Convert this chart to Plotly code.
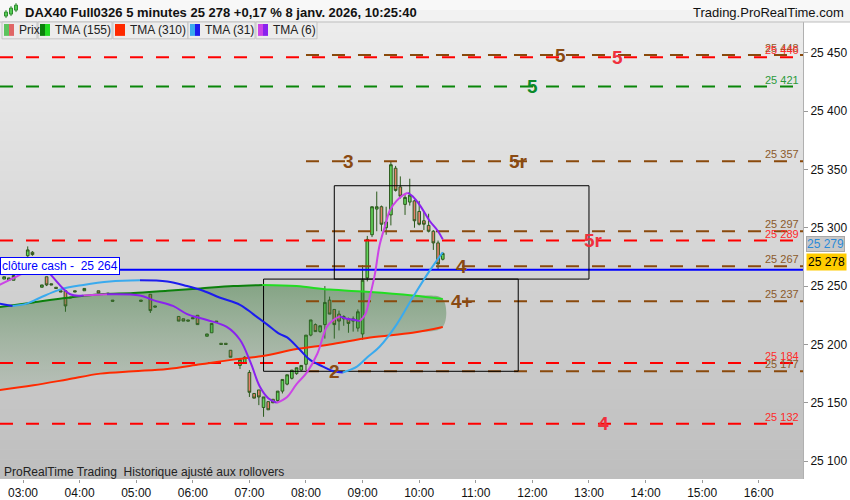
import plotly.graph_objects as go

DAY = "2026-01-08"
X_START = "02:35:36"
X_END = "16:46:54"
Y_MIN, Y_MAX = 25084.7, 25476.3

# 5 minute candles (overnight bars are sparse)
BAR_TIMES = ["02:40", "02:45", "02:50", "03:05", "03:10", "03:15", "03:20", "03:25", "03:30", "03:35",
             "03:40", "03:45", "03:50", "03:55", "04:05", "04:20", "04:30", "04:35", "05:05", "05:15",
             "05:20", "05:45", "05:50", "05:55", "06:00", "06:05", "06:15", "06:20", "06:25", "06:30",
             "06:35", "06:40", "06:50", "06:55", "07:00", "07:05", "07:10", "07:15", "07:20", "07:25",
             "07:30", "07:35", "07:40", "07:45", "07:50", "07:55", "08:00", "08:05", "08:10", "08:15",
             "08:20", "08:25", "08:30", "08:35", "08:40", "08:45", "08:50", "08:55", "09:00", "09:05",
             "09:10", "09:15", "09:20", "09:25", "09:30", "09:35", "09:40", "09:45", "09:50", "09:55",
             "10:00", "10:05", "10:10", "10:15", "10:20", "10:25"]
BAR_OPEN = [25256, 25255, 25255, 25276, 25279, 25261, 25249, 25258, 25252, 25249,
            25246, 25246, 25240, 25246, 25246, 25246, 25244, 25238, 25238, 25243,
            25233, 25224, 25222, 25221, 25223, 25225, 25207, 25210, 25220, 25201,
            25201, 25195, 25182, 25184, 25176, 25158, 25161, 25146, 25151, 25153,
            25152, 25160, 25166, 25171, 25175, 25178, 25183, 25208, 25217, 25211,
            25217, 25238, 25230, 25226, 25222, 25222, 25220, 25214, 25209, 25257,
            25294, 25316, 25318, 25300, 25311, 25351, 25335, 25320, 25322, 25323,
            25314, 25306, 25302, 25297, 25287, 25273]
BAR_HIGH = [25258, 25257, 25260, 25284, 25280, 25261, 25251, 25258, 25252, 25249,
            25246, 25246, 25241, 25246, 25248, 25246, 25244, 25238, 25238, 25243,
            25233, 25224, 25222, 25221, 25223, 25225, 25209, 25218, 25220, 25201,
            25201, 25195, 25187, 25190, 25178, 25158, 25161, 25155, 25151, 25153,
            25160, 25170, 25174, 25178, 25180, 25182, 25208, 25221, 25218, 25216,
            25250, 25241, 25230, 25229, 25225, 25223, 25224, 25230, 25268, 25293,
            25318, 25331, 25319, 25318, 25357, 25353, 25344, 25328, 25342, 25324,
            25323, 25314, 25312, 25298, 25289, 25279]
BAR_LOW = [25256, 25255, 25255, 25275, 25276, 25260, 25249, 25250, 25251, 25248,
           25245, 25228, 25240, 25245, 25246, 25244, 25243, 25237, 25237, 25227,
           25232, 25220, 25220, 25220, 25222, 25217, 25207, 25210, 25219, 25200,
           25200, 25189, 25179, 25184, 25155, 25154, 25148, 25138, 25144, 25150,
           25150, 25158, 25165, 25170, 25174, 25177, 25178, 25207, 25211, 25210,
           25205, 25226, 25205, 25212, 25216, 25210, 25211, 25211, 25204, 25254,
           25292, 25297, 25297, 25294, 25302, 25331, 25325, 25311, 25319, 25300,
           25302, 25298, 25296, 25281, 25264, 25272]
BAR_CLOSE = [25258, 25257, 25259, 25281, 25277, 25260, 25251, 25251, 25251, 25248,
             25245, 25233, 25240, 25245, 25248, 25244, 25243, 25237, 25237, 25229,
             25232, 25220, 25220, 25220, 25222, 25217, 25209, 25218, 25219, 25200,
             25200, 25189, 25187, 25189, 25159, 25154, 25155, 25155, 25144, 25150,
             25160, 25170, 25174, 25178, 25180, 25182, 25208, 25221, 25211, 25216,
             25236, 25226, 25217, 25220, 25224, 25218, 25222, 25228, 25255, 25290,
             25318, 25318, 25303, 25305, 25354, 25332, 25327, 25326, 25328, 25306,
             25303, 25303, 25297, 25287, 25269, 25278]

# triangular moving averages
TMA6_TIMES = ["02:35", "03:05", "03:18", "03:29", "03:50", "04:04", "04:29", "05:04", "05:18", "05:39",
              "05:54", "06:15", "06:36", "06:50", "07:01", "07:11", "07:20", "07:29", "07:40", "07:50",
              "08:01", "08:12", "08:22", "08:29", "08:36", "08:43", "08:52", "08:57", "09:03", "09:08",
              "09:13", "09:18", "09:24", "09:29", "09:36", "09:43", "09:48", "09:53", "10:01", "10:11",
              "10:20", "10:25"]
TMA6_VALUES = [25251, 25263, 25269, 25260, 25243, 25242, 25243, 25242, 25238, 25233,
               25226, 25221, 25215, 25204, 25185, 25164, 25154, 25150, 25155, 25166,
               25176, 25192, 25215, 25221, 25224, 25222, 25221, 25220, 25226, 25242,
               25260, 25285, 25302, 25315, 25323, 25328, 25330, 25327, 25319, 25306,
               25297, 25290]
TMA31_TIMES = ["02:35", "02:49", "03:04", "03:18", "03:39", "04:04", "04:32", "05:04", "05:33", "05:54",
               "06:11", "06:29", "06:50", "07:04", "07:19", "07:32", "07:40", "07:54", "08:04", "08:18",
               "08:29", "08:39", "08:54", "09:05", "09:18", "09:36", "09:53", "10:11", "10:25"]
TMA31_VALUES = [25235, 25233, 25235, 25240, 25247, 25251, 25254, 25255, 25254, 25250,
                25246, 25240, 25234, 25226, 25217, 25209, 25206, 25195, 25187, 25181,
                25177, 25176, 25181, 25189, 25198, 25217, 25240, 25263, 25279]
SLOW_TIMES = ["02:35", "03:11", "03:47", "04:22", "04:57", "05:33", "06:08", "06:43", "07:14", "07:50",
              "08:25", "09:08", "09:53", "10:25"]
TMA155_VALUES = [25232, 25236, 25240, 25243, 25244, 25246, 25248, 25250, 25251, 25250,
                 25247, 25245, 25242, 25239]
TMA310_VALUES = [25161, 25165, 25170, 25175, 25177, 25179, 25183, 25187, 25190, 25196,
                 25200, 25206, 25210, 25215]

LAST_PRICE = 25278
CASH_CLOSE = 25264

# horizontal levels
LEVELS = [25448, 25446, 25421, 25357, 25297, 25289, 25267, 25237, 25184, 25177, 25132]
LEVEL_KIND = ["brown", "red", "green", "brown", "brown", "red", "brown", "brown", "red", "brown", "red"]
LEVEL_FROM = ["08:00", None, None, "08:00", "08:00", None, "08:00", "08:00", None, "08:00", None]

TAG_TEXT = ["5", "5", "5", "3", "5r", "5r", "4", "4+", "2", "4"]
TAG_TIME = ["12:30", "13:30", "12:00", "08:45", "11:45", "13:05", "10:45", "10:45", "08:30", "13:15"]
TAG_LEVEL = [25448, 25446, 25421, 25357, 25357, 25289, 25267, 25237, 25177, 25132]
TAG_KIND = ["brown", "red", "green", "brown", "brown", "red", "brown", "brown", "brown", "red"]

ZONE_START = ["08:30", "07:15"]
ZONE_END = ["13:00", "11:45"]
ZONE_LOW = [25256, 25177]
ZONE_HIGH = [25336, 25256]

LEGEND_NAMES = ["Prix", "TMA (155)", "TMA (310)", "TMA (31)", "TMA (6)"]

KIND_COLOR = {"brown": "#8a4a0c", "red": "#ff0000", "green": "#0a860a"}
TAG_COLOR = {"brown": "#8a4a12", "red": "#f0303c", "green": "#0a8a2a"}
LABEL_COLOR = {"brown": "#8b5a2b", "red": "#ff2a2a", "green": "#2a9a3a"}

W, H = 850, 500
ML, MR, MT, MB = 0, 47, 22, 17
PW, PH = W - ML - MR, H - MT - MB
FONT = "Liberation Sans, Arial, sans-serif"


def ts(hhmm):
    if len(hhmm) == 5:
        hhmm += ":00"
    return f"{DAY} {hhmm}"


def fx(x):
    return (x - ML) / PW


def fy(y):
    return (H - MB - y) / PH


def fmt(v):
    return f"{v:,}".replace(",", " ")


fig = go.Figure()

# TMA155 / TMA310 band with fading fill
slow_x = [ts(t) for t in SLOW_TIMES]
fig.add_trace(go.Scatter(
    x=slow_x + slow_x[::-1], y=TMA155_VALUES + TMA310_VALUES[::-1],
    fill="toself", mode="none", line_shape="spline",
    fillgradient=dict(type="vertical",
                      colorscale=[[0, "rgba(70,130,70,0.12)"], [1, "rgba(40,110,40,0.45)"]]),
    hoverinfo="skip", showlegend=False))

# levels
for v, kind, start in zip(LEVELS, LEVEL_KIND, LEVEL_FROM):
    x0 = ts(start) if start else ts(X_START)
    fig.add_trace(go.Scatter(
        x=[x0, ts(X_END)], y=[v, v], mode="lines",
        line=dict(color=KIND_COLOR[kind], width=2, dash="13px,13px"),
        hoverinfo="skip", showlegend=False))

fig.add_trace(go.Scatter(
    x=[ts(X_START), ts(X_END)], y=[CASH_CLOSE, CASH_CLOSE], mode="lines",
    line=dict(color="#0000ff", width=2), hoverinfo="skip", showlegend=False))

# zones
for t0, t1, lo, hi in zip(ZONE_START, ZONE_END, ZONE_LOW, ZONE_HIGH):
    fig.add_trace(go.Scatter(
        x=[ts(t0), ts(t1), ts(t1), ts(t0), ts(t0)], y=[lo, lo, hi, hi, lo],
        mode="lines", line=dict(color="#000000", width=1),
        hoverinfo="skip", showlegend=False))

fig.add_trace(go.Candlestick(
    x=[ts(t) for t in BAR_TIMES], open=BAR_OPEN, high=BAR_HIGH, low=BAR_LOW, close=BAR_CLOSE,
    increasing=dict(line=dict(color="#2b5a1c", width=1), fillcolor="#62d45a"),
    decreasing=dict(line=dict(color="#2b5a1c", width=1), fillcolor="#e4806c"),
    whiskerwidth=0, hoverinfo="skip", showlegend=False))


def add_tma(times, values, up_color, down_color):
    xs = [ts(t) for t in times]
    seg_x, seg_y = [xs[0]], [values[0]]
    cur = None
    for i in range(1, len(values)):
        col = up_color if values[i] > values[i - 1] else down_color
        if cur is not None and col != cur:
            fig.add_trace(go.Scatter(x=seg_x, y=seg_y, mode="lines", line_shape="spline",
                                     line=dict(color=cur, width=2), hoverinfo="skip", showlegend=False))
            seg_x, seg_y = [xs[i - 1]], [values[i - 1]]
        cur = col
        seg_x.append(xs[i])
        seg_y.append(values[i])
    fig.add_trace(go.Scatter(x=seg_x, y=seg_y, mode="lines", line_shape="spline",
                             line=dict(color=cur, width=2), hoverinfo="skip", showlegend=False))


add_tma(SLOW_TIMES, TMA310_VALUES, "#ff2a00", "#ff0000")
add_tma(SLOW_TIMES, TMA155_VALUES, "#0c800c", "#22dd22")
add_tma(TMA31_TIMES, TMA31_VALUES, "#3aaaee", "#1c1cee")
add_tma(TMA6_TIMES, TMA6_VALUES, "#cc44e6", "#8a22ee")

shapes = []
# plot background gradient
n = 46
for i in range(n):
    t = i / (n - 1)
    g = round(236 + (190 - 236) * t)
    y0 = MT + i * PH / n
    y1 = y0 + PH / n + 0.6
    shapes.append(dict(type="rect", xref="paper", yref="paper", x0=0, x1=1,
                       y0=fy(min(y1, H - MB)), y1=fy(y0), fillcolor=f"rgb({g},{g},{g})",
                       line=dict(width=0), layer="below"))

# header bar
shapes.append(dict(type="rect", xref="paper", yref="paper", x0=fx(0), x1=fx(W), y0=fy(MT), y1=fy(0),
                   fillcolor="#f2f2f2", line=dict(width=0), layer="above"))
shapes.append(dict(type="rect", xref="paper", yref="paper", x0=fx(0), x1=fx(W), y0=fy(10), y1=fy(0),
                   fillcolor="#f8f8f8", line=dict(width=0), layer="above"))
shapes.append(dict(type="line", xref="paper", yref="paper", x0=fx(0), x1=fx(W), y0=fy(MT), y1=fy(MT),
                   line=dict(color="#bdbdbd", width=1), layer="above"))
# little candle icon
for x, y0, y1 in [(6, 10, 18), (11, 6, 16), (16, 3, 12)]:
    shapes.append(dict(type="line", xref="paper", yref="paper", x0=fx(x), x1=fx(x), y0=fy(y1), y1=fy(y0),
                       line=dict(color="#2f8a2f", width=1), layer="above"))
    shapes.append(dict(type="rect", xref="paper", yref="paper", x0=fx(x - 1.5), x1=fx(x + 1.5),
                       y0=fy(y1 - 2), y1=fy(y0 + 2), fillcolor="#55cc55",
                       line=dict(color="#2f8a2f", width=1), layer="above"))

# legend bar
legend_boxes = [(2, 37), (38, 112), (113, 188), (188, 255), (256, 317)]
legend_icons = [("#5cc45c", "#e06666"), ("#0c800c", "#22dd22"), ("#ff2a00", "#ff2a00"),
                ("#3aaaee", "#1c1cee"), ("#cc44e6", "#8a22ee")]
annotations = []
for (b0, b1), (c0, c1), name in zip(legend_boxes, legend_icons, LEGEND_NAMES):
    shapes.append(dict(type="rect", xref="paper", yref="paper", x0=fx(b0), x1=fx(b1), y0=fy(39), y1=fy(22),
                       fillcolor="#ececec", line=dict(color="#c4c4c4", width=1), layer="above"))
    shapes.append(dict(type="rect", xref="paper", yref="paper", x0=fx(b0 + 2), x1=fx(b0 + 7), y0=fy(36),
                       y1=fy(24), fillcolor=c0, line=dict(width=0), layer="above"))
    shapes.append(dict(type="rect", xref="paper", yref="paper", x0=fx(b0 + 7), x1=fx(b0 + 12), y0=fy(36),
                       y1=fy(24), fillcolor=c1, line=dict(width=0), layer="above"))
    annotations.append(dict(x=fx(b0 + 15), y=fy(30.5), xref="paper", yref="paper", text=name,
                            showarrow=False, xanchor="left", yanchor="middle",
                            font=dict(family=FONT, size=12, color="#222222")))

annotations.append(dict(x=fx(23), y=fy(12), xref="paper", yref="paper",
                        text="<b>DAX40 Full0326 5 minutes 25 278 +0,17 % 8 janv. 2026, 10:25:40</b>",
                        showarrow=False, xanchor="left", yanchor="middle",
                        font=dict(family=FONT, size=13, color="#111111")))
annotations.append(dict(x=fx(846), y=fy(12), xref="paper", yref="paper", text="Trading.ProRealTime.com",
                        showarrow=False, xanchor="right", yanchor="middle",
                        font=dict(family=FONT, size=13, color="#111111")))

# level tags on the chart
for text, t, v, kind in zip(TAG_TEXT, TAG_TIME, TAG_LEVEL, TAG_KIND):
    annotations.append(dict(x=ts(t), y=v, xref="x", yref="y", text=f"<b>{text}</b>", showarrow=False,
                            xanchor="center", yanchor="middle",
                            font=dict(family=FONT, size=19, color=TAG_COLOR[kind])))

# level values at right edge
for v, kind in zip(LEVELS, LEVEL_KIND):
    annotations.append(dict(x=fx(801), y=v, xref="paper", yref="y", text=fmt(v), showarrow=False,
                            xanchor="right", yanchor="bottom", yshift=-1,
                            font=dict(family=FONT, size=11, color=LABEL_COLOR[kind])))

annotations.append(dict(x=0, y=CASH_CLOSE, xref="paper", yref="y",
                        text=f"clôture cash -  {fmt(CASH_CLOSE)}", showarrow=False,
                        xanchor="left", yanchor="bottom", yshift=-5,
                        bgcolor="#ffffff", bordercolor="#0000ff", borderwidth=1, borderpad=1,
                        font=dict(family=FONT, size=12, color="#0000ff")))

annotations.append(dict(x=fx(806), y=TMA31_VALUES[-1], xref="paper", yref="y", text=fmt(TMA31_VALUES[-1]),
                        showarrow=False, xanchor="left", yanchor="bottom",
                        bgcolor="#c8c8c8", bordercolor="#a8a8a8", borderwidth=1, borderpad=0,
                        font=dict(family=FONT, size=12, color="#2a8ad8")))
annotations.append(dict(x=fx(806), y=LAST_PRICE, xref="paper", yref="y", text=fmt(LAST_PRICE),
                        showarrow=False, xanchor="left", yanchor="top",
                        bgcolor="#ffcc00", borderpad=1,
                        font=dict(family=FONT, size=12, color="#000000")))

annotations.append(dict(x=fx(2), y=fy(476), xref="paper", yref="paper",
                        text="ProRealTime Trading \u00a0Historique ajusté aux rollovers", showarrow=False,
                        xanchor="left", yanchor="middle",
                        font=dict(family=FONT, size=12, color="#222222")))

fig.update_layout(
    width=W, height=H,
    margin=dict(l=ML, r=MR, t=MT, b=MB, pad=0),
    paper_bgcolor="#ffffff", plot_bgcolor="#d4d4d4",
    separators=", ",
    boxgap=0.25, boxgroupgap=0.25,
    showlegend=False,
    shapes=shapes, annotations=annotations,
    font=dict(family=FONT, size=12, color="#111111"),
    xaxis=dict(type="date", range=[ts(X_START), ts(X_END)], tickformat="%H:%M",
               dtick=3600000, tick0=ts("03:00"), showgrid=False, zeroline=False,
               ticks="outside", ticklen=3, tickcolor="#999999",
               tickfont=dict(family=FONT, size=12, color="#111111"),
               rangeslider=dict(visible=False), fixedrange=True),
    yaxis=dict(side="right", range=[Y_MIN, Y_MAX], dtick=50, tickformat=",d", showgrid=False,
               zeroline=False, ticks="outside", ticklen=4, tickcolor="#999999",
               showline=True, linecolor="#b0b0b0", linewidth=1,
               tickfont=dict(family=FONT, size=12, color="#111111"), fixedrange=True),
)

# the page body has a default 8px margin; drop it so the figure fills the window
fig.write_html("out.html", config=dict(displayModeBar=False),
               post_script="document.body.style.margin='0';")
